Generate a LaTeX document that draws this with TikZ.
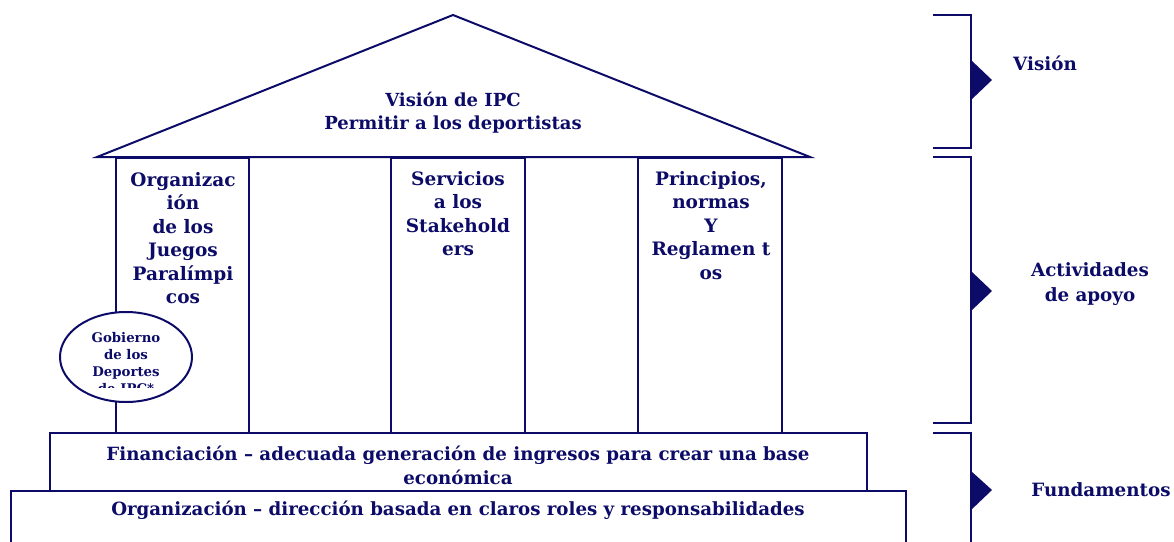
\documentclass[tikz,border=0pt]{standalone}
\usepackage{fontspec}
\setmainfont{DejaVu Serif}
\usetikzlibrary{positioning, shapes.geometric}
\definecolor{ipcnavy}{RGB}{12,12,104}
\tikzset{
pillar/.style = { rectangle, draw = ipcnavy, line width = 2pt, minimum height = 275pt, anchor = north, inner sep = 0pt },
slab/.style = { rectangle, draw = ipcnavy, fill = white, line width = 2pt, anchor = north west, inner sep = 0pt },
pillar text/.style = { text = ipcnavy, font = \bfseries\fontsize{18.5}{23.5}\selectfont, align = center, anchor = north, inner sep = 0pt },
slab text/.style = { text = ipcnavy, font = \bfseries\fontsize{18.2}{24}\selectfont, align = center, inner sep = 0pt },
side label/.style = { text = ipcnavy, font = \bfseries\fontsize{18.3}{24.5}\selectfont, align = center, inner sep = 0pt },
bracket/.style = { draw = ipcnavy, line width = 2pt },
}

\begin{document}
\begin{tikzpicture}[x = 1pt, y = -1pt]
  \useasboundingbox (0, 0) rectangle (1174, 541);
  % roof
  \coordinate (eave west) at (97, 157);
  \coordinate (ridge) at (453, 15);
  \coordinate (eave east) at (810, 157);
  \draw[ipcnavy, line width = 2pt, line join = miter] (eave west) -- (ridge) -- (eave east) -- cycle;
  \begin{scope}
    \clip (300, 80) rectangle (620, 133);
    \node[slab text, font = \bfseries\fontsize{18}{23}\selectfont] (vision text) at (453, 113) {Visión de IPC\\Permitir a los deportistas};
  \end{scope}
  % pillars
  \node[pillar, minimum width = 133pt] (games) at (182.5, 157) {};
  \node[pillar, minimum width = 134pt] (services) at (458, 157) {};
  \node[pillar, minimum width = 144pt] (rules) at (710, 157) {};
  \node[pillar text] (games text) at (183, 172) {Organizac\\ión\\de los\\Juegos\\Paralímpi\\cos};
  \node[pillar text] (services text) at (458, 171) {Servicios\\a los\\Stakehold\\ers};
  \node[pillar text] (rules text) at (711, 171) {Principios,\\normas\\Y\\Reglamen t\\os};
  % governance ellipse
  \node[ellipse, draw = ipcnavy, fill = white, line width = 2pt, minimum width = 132pt, minimum height = 90pt] (governance) at (126, 357) {};
  \begin{scope}
    \clip (60, 320) rectangle (192, 387);
    \node[slab text, font = \bfseries\fontsize{13.3}{17}\selectfont] (governance text) at (126, 363) {Gobierno\\de los\\Deportes\\de IPC*};
  \end{scope}
  % foundations
  \node[slab, minimum width = 817pt, minimum height = 58pt] (funding) at (49, 432) {};
  \node[slab, minimum width = 895pt, minimum height = 62pt] (structure) at (10, 490) {};
  \node[slab text] (funding text) at (458, 465) {Financiación – adecuada generación de ingresos para crear una base\\económica};
  \node[slab text] (structure text) at (458, 510) {Organización – dirección basada en claros roles y responsabilidades};
  % brackets
  \draw[bracket] (933, 15) -- (971, 15) -- (971, 148) -- (933, 148);
  \fill[ipcnavy] (971, 60) -- (992, 80) -- (971, 100) -- cycle;
  \draw[bracket] (933, 157) -- (971, 157) -- (971, 423) -- (933, 423);
  \fill[ipcnavy] (971, 271) -- (992, 291) -- (971, 311) -- cycle;
  \draw[bracket] (933, 433) -- (971, 433) -- (971, 545);
  \fill[ipcnavy] (971, 471) -- (992, 490) -- (971, 510) -- cycle;
  \node[side label] (vision label) at (1045, 63) {Visión};
  \node[side label] (support label) at (1090, 284) {Actividades\\de apoyo};
  \node[side label] (base label) at (1101, 490) {Fundamentos};
\end{tikzpicture}
\end{document}
